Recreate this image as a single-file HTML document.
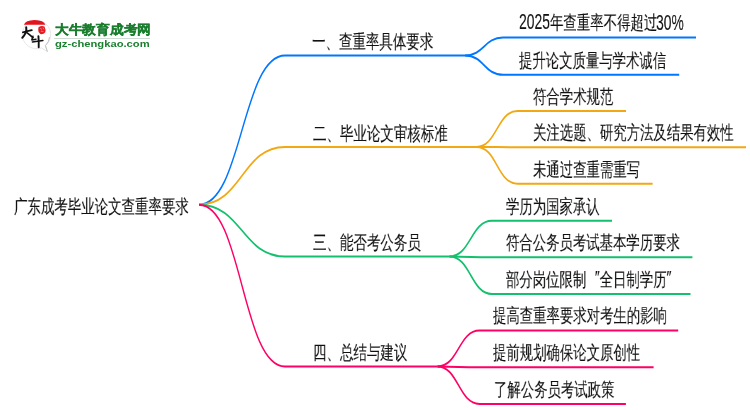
<!DOCTYPE html>
<html><head><meta charset="utf-8"><style>
html,body{margin:0;padding:0;background:#fff;}
body{width:750px;height:410px;overflow:hidden;position:relative;font-family:"Liberation Sans",sans-serif;}
.ql{display:inline-block;width:1em;text-align:right;position:relative;top:-2px;}.qr{display:inline-block;width:1em;text-align:left;position:relative;top:-2px;}
.t{will-change:transform;position:absolute;white-space:nowrap;font-size:19px;line-height:19px;color:#111;-webkit-text-stroke:0.1px #111;transform-origin:0 0;transform:scaleX(0.7042);}
svg.lines{position:absolute;left:0;top:0;}
svg.lines path{fill:none;stroke-width:2;}
.lt1{will-change:transform;position:absolute;left:54.5px;top:23.3px;font-size:13px;line-height:13px;font-weight:bold;color:#1a7d2e;-webkit-text-stroke:0.3px #1a7d2e;white-space:nowrap;transform-origin:0 0;transform:scaleX(1.055);}
.lt2{will-change:transform;position:absolute;left:54.5px;top:39px;font-size:9.2px;line-height:10px;font-weight:bold;color:#1a8030;white-space:nowrap;transform-origin:0 0;transform:scaleX(1.22);}
.ldiv{position:absolute;left:54px;top:38px;width:96px;height:1.2px;background:#cfdcd3;}
</style></head><body>
<svg class="lines" width="750" height="410" viewBox="0 0 750 410"><g transform="scale(0.68,1)"><path d="M292.65 204.70C355.88 204.70 355.88 55.50 419.12 55.50L683.82 55.50" stroke="#0077ff"/><path d="M683.82 55.50C711.76 55.50 711.76 37.60 739.71 37.60L1023.53 37.60" stroke="#0077ff"/><path d="M683.82 55.50C711.76 55.50 711.76 74.80 739.71 74.80L998.82 74.80" stroke="#0077ff"/><path d="M292.65 204.70C355.88 204.70 355.88 146.90 419.12 146.90L700.74 146.90" stroke="#f2a812"/><path d="M700.74 146.90C730.88 146.90 730.88 111.00 761.03 111.00L920.59 111.00" stroke="#f2a812"/><path d="M700.74 146.90C730.88 146.90 730.88 147.20 761.03 147.20L1097.06 147.20" stroke="#f2a812"/><path d="M700.74 146.90C730.88 146.90 730.88 183.70 761.03 183.70L959.71 183.70" stroke="#f2a812"/><path d="M292.65 204.70C355.88 204.70 355.88 256.50 419.12 256.50L661.03 256.50" stroke="#14c06e"/><path d="M661.03 256.50C692.28 256.50 692.28 220.80 723.53 220.80L900.00 220.80" stroke="#14c06e"/><path d="M661.03 256.50C692.28 256.50 692.28 257.30 723.53 257.30L1018.24 257.30" stroke="#14c06e"/><path d="M661.03 256.50C692.28 256.50 692.28 294.00 723.53 294.00L1015.44 294.00" stroke="#14c06e"/><path d="M292.65 204.70C355.88 204.70 355.88 366.50 419.12 366.50L643.38 366.50" stroke="#ff0066"/><path d="M643.38 366.50C674.26 366.50 674.26 330.60 705.15 330.60L997.35 330.60" stroke="#ff0066"/><path d="M643.38 366.50C674.26 366.50 674.26 367.30 705.15 367.30L961.18 367.30" stroke="#ff0066"/><path d="M643.38 366.50C674.26 366.50 674.26 403.90 705.15 403.90L920.44 403.90" stroke="#ff0066"/></g></svg>
<div class="t" style="left:312.30px;top:32.40px;transform:scaleX(0.7095)">一、查重率具体要求</div><div class="t" style="left:519.40px;top:50.60px">提升论文质量与学术诚信</div><div class="t" style="left:313.00px;top:123.80px;transform:scaleX(0.7095)">二、毕业论文审核标准</div><div class="t" style="left:532.90px;top:86.80px">符合学术规范</div><div class="t" style="left:532.90px;top:123.00px">关注选题、研究方法及结果有效性</div><div class="t" style="left:533.00px;top:159.50px">未通过查重需重写</div><div class="t" style="left:313.00px;top:233.40px;transform:scaleX(0.7095)">三、能否考公务员</div><div class="t" style="left:505.60px;top:196.60px">学历为国家承认</div><div class="t" style="left:505.60px;top:233.10px">符合公务员考试基本学历要求</div><div class="t" style="left:505.60px;top:269.80px">部分岗位限制<span class="ql">″</span>全日制学历<span class="qr">″</span></div><div class="t" style="left:312.70px;top:343.40px;transform:scaleX(0.7095)">四、总结与建议</div><div class="t" style="left:492.80px;top:306.40px">提高查重率要求对考生的影响</div><div class="t" style="left:492.80px;top:343.10px">提前规划确保论文原创性</div><div class="t" style="left:494.20px;top:379.70px">了解公务员考试政策</div><div class="t" style="left:14.30px;top:196.60px;transform:scaleX(0.7079)">广东成考毕业论文查重率要求</div>
<div class="t" style="left:518.8px;top:11.3px;font-size:22px;line-height:22px;transform:scaleX(0.632);-webkit-text-stroke:0.15px #111">2025</div><div class="t" style="left:550.0px;top:13.40px;transform:scaleX(0.706)">年查重率不得超过</div><div class="t" style="left:656.4px;top:11.5px;font-size:22px;line-height:22px;transform:scaleX(0.632);-webkit-text-stroke:0.15px #111">30%</div>
<svg width="60" height="60" viewBox="0 0 60 60" style="position:absolute;left:0;top:0">
<path d="M45.4 45.6 A14.2 14.2 0 1 0 41.3 47.9 L47.4 51.6 Z" fill="#fff" stroke="#dcdcdc" stroke-width="0.7" stroke-linejoin="round"/>
<path d="M49.6 37 A14.2 14.2 0 0 1 45.4 45.6 L47.4 51.6" fill="none" stroke="#bbbbbb" stroke-width="0.9"/>
<path d="M23.9 24.7 Q25.5 20.2 34.6 19.9 Q43.8 20.2 45.4 24.7 Z" fill="#e3141e"/>
<path d="M38.6 27 Q41.5 25.4 44.5 26.4 Q46 29.5 45.3 32.2 Q43.5 34.6 40.3 34.1 Q38 32.6 38.2 29.8 Z" fill="#e41b23"/>
<path d="M40.2 28.3 l1.8 1.2 M40.8 31.2 l2.6 0.3 M43 27.6 l0.8 1.8" stroke="#f7c0c0" stroke-width="0.6"/>
<g fill="none" stroke="#111" stroke-linecap="round" stroke-linejoin="round">
<path d="M22.9 32.3 Q27.3 31.3 31.8 30.2" stroke-width="1.8"/>
<path d="M26.2 27.3 Q27.2 32.6 22.3 37.7" stroke-width="2"/>
<path d="M26.5 32.4 Q29.8 34.8 33 37.6" stroke-width="1.7"/>
<path d="M32.9 36.3 L31.8 39.9 L36 39.2" stroke-width="1.5"/>
<path d="M32.4 41.9 Q37.6 41.1 42.9 40.5" stroke-width="1.5"/>
<path d="M38.4 36.2 Q38.9 41.5 38.7 47.2" stroke-width="1.9"/>
</g>
</svg>
<div class="lt1">大牛教育成考网</div>
<div class="ldiv"></div>
<div class="lt2">gz-chengkao.com</div>
</body></html>
